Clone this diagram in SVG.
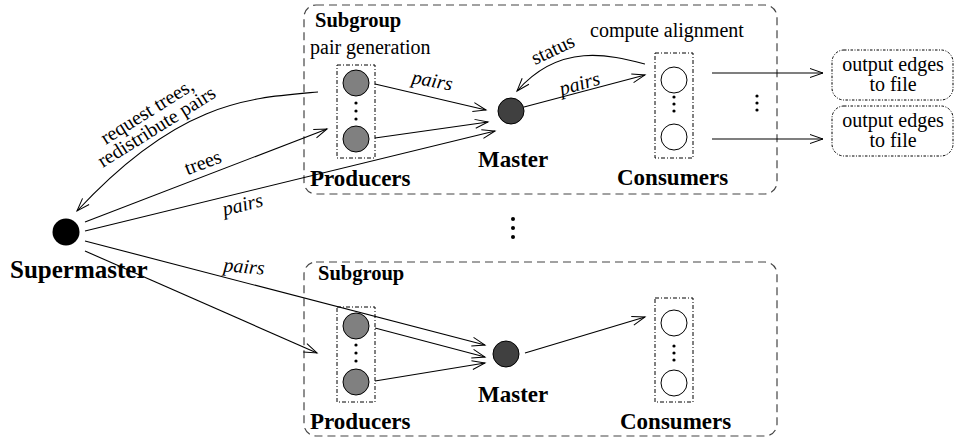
<svg xmlns="http://www.w3.org/2000/svg" width="955" height="445" viewBox="0 0 955 445" font-family="'Liberation Serif', 'DejaVu Serif', serif">
<defs>
<marker id="arr" markerUnits="userSpaceOnUse" markerWidth="16" markerHeight="10" refX="13" refY="4.5" orient="auto" overflow="visible">
<path d="M0,0 L13,4.5 L0,9" fill="none" stroke="#000" stroke-width="1"/>
</marker>
</defs>
<style>
.sg{fill:none;stroke:#444;stroke-width:1.2;stroke-dasharray:8,5}
.grp{fill:none;stroke:#000;stroke-width:1;stroke-dasharray:4,2,1,2}
.out{fill:none;stroke:#000;stroke-width:1;stroke-dasharray:2.5,1.5,1,1.5}
.ar{fill:none;stroke:#000;stroke-width:1.1;marker-end:url(#arr)}
.prod{fill:#808080;stroke:#000;stroke-width:1}
.cons{fill:#fff;stroke:#000;stroke-width:1}
.mast{fill:#404040;stroke:#000;stroke-width:1}
.dot{fill:#000}
text{font-family:'Liberation Serif','DejaVu Serif',serif;fill:#000}
.b{font-weight:bold;font-size:23px}
.sgt{font-weight:bold;font-size:20.5px}
.r{font-size:20px}
.i{font-size:20px;font-style:italic}
</style>

<g id="subgroup1">
<rect class="sg" x="304" y="5" width="473" height="189" rx="12"/>
<text class="sgt" x="315" y="27">Subgroup</text>
<text class="r" x="310" y="54">pair generation</text>
<text class="r" x="590" y="37">compute alignment</text>
<text class="b" x="310" y="186">Producers</text>
<text class="b" x="617" y="185">Consumers</text>
</g>

<g id="producers1">
<rect class="grp" x="337" y="65" width="38" height="93"/>
<circle class="prod" cx="356" cy="83" r="13"/>
<circle class="dot" cx="356" cy="103" r="1.6"/>
<circle class="dot" cx="356" cy="111" r="1.6"/>
<circle class="dot" cx="356" cy="119" r="1.6"/>
<circle class="prod" cx="356" cy="139" r="13"/>
</g>

<g id="master1">
<circle class="mast" cx="511" cy="111" r="13"/>
<text class="b" x="478" y="167">Master</text>
</g>

<g id="consumers1">
<rect class="grp" x="655" y="53" width="38" height="105"/>
<circle class="cons" cx="674" cy="80" r="13"/>
<circle class="dot" cx="674" cy="97" r="1.6"/>
<circle class="dot" cx="674" cy="104" r="1.6"/>
<circle class="dot" cx="674" cy="111" r="1.6"/>
<circle class="cons" cx="674" cy="137" r="13"/>
</g>

<g id="output1">
<rect class="out" x="832" y="50" width="121" height="50" rx="12"/>
<text class="r" x="893" y="71" text-anchor="middle">output edges</text>
<text class="r" x="893" y="91" text-anchor="middle">to file</text>
</g>

<g id="output2">
<rect class="out" x="832" y="106" width="121" height="50" rx="12"/>
<text class="r" x="893" y="127" text-anchor="middle">output edges</text>
<text class="r" x="893" y="147" text-anchor="middle">to file</text>
</g>

<g id="outdots">
<circle class="dot" cx="757" cy="96" r="1.6"/>
<circle class="dot" cx="757" cy="103" r="1.6"/>
<circle class="dot" cx="757" cy="110" r="1.6"/>
</g>

<g id="middots">
<circle class="dot" cx="513" cy="219" r="2"/>
<circle class="dot" cx="513" cy="228" r="2"/>
<circle class="dot" cx="513" cy="237" r="2"/>
</g>

<g id="supermaster">
<circle fill="#000" cx="66" cy="232" r="13.5"/>
<text class="b" x="10" y="278" style="font-size:25px">Supermaster</text>
</g>

<g id="subgroup2">
<rect class="sg" x="304" y="262" width="473" height="174" rx="12"/>
<text class="sgt" x="318" y="280">Subgroup</text>
<text class="b" x="310" y="429">Producers</text>
<text class="b" x="620" y="429">Consumers</text>
</g>

<g id="producers2">
<rect class="grp" x="337" y="307" width="38" height="95"/>
<circle class="prod" cx="356" cy="326" r="13"/>
<circle class="dot" cx="356" cy="345" r="1.6"/>
<circle class="dot" cx="356" cy="353" r="1.6"/>
<circle class="dot" cx="356" cy="361" r="1.6"/>
<circle class="prod" cx="356" cy="382" r="13"/>
</g>

<g id="master2">
<circle class="mast" cx="506" cy="354" r="13"/>
<text class="b" x="478" y="402">Master</text>
</g>

<g id="consumers2">
<rect class="grp" x="655" y="298" width="38" height="104"/>
<circle class="cons" cx="674" cy="323" r="13"/>
<circle class="dot" cx="674" cy="346" r="1.6"/>
<circle class="dot" cx="674" cy="353" r="1.6"/>
<circle class="dot" cx="674" cy="360" r="1.6"/>
<circle class="cons" cx="674" cy="383" r="13"/>
</g>

<g id="connectors">
<path class="ar" d="M318,92 C250,98 180,100 77,211"/>
<path class="ar" d="M85,222 L327,129"/>
<path class="ar" d="M85,231 L495,131"/>
<path class="ar" d="M375,84 L486,110"/>
<path class="ar" d="M375,138 L488,122"/>
<path class="ar" d="M524,107 L645,75"/>
<path class="ar" d="M645,64 C610,55 560,42 517,91"/>
<path class="ar" d="M712,73 L823,73"/>
<path class="ar" d="M712,139 L823,139"/>
<path class="ar" d="M85,241 L485,345"/>
<path class="ar" d="M85,251 L317,353"/>
<path class="ar" d="M375,328 L485,357"/>
<path class="ar" d="M375,381 L485,363"/>
<path class="ar" d="M525,353 L645,317"/>
</g>

<g id="labels">
<g transform="translate(152,119.5) rotate(-32)">
<text class="r" x="0" y="-3" text-anchor="middle">request trees,</text>
<text class="r" x="0" y="15" text-anchor="middle">redistribute pairs</text>
</g>
<text class="r" transform="translate(203,163) rotate(-21)" x="0" y="6" text-anchor="middle">trees</text>
<text class="i" transform="translate(243,206) rotate(-14)" x="0" y="5" text-anchor="middle">pairs</text>
<text class="i" transform="translate(244,268) rotate(5)" x="0" y="5" text-anchor="middle">pairs</text>
<text class="i" transform="translate(432,82) rotate(10)" x="0" y="5" text-anchor="middle">pairs</text>
<text class="i" transform="translate(580,85) rotate(-16)" x="0" y="5" text-anchor="middle">pairs</text>
<text class="r" transform="translate(553,50) rotate(-25)" x="0" y="6" text-anchor="middle">status</text>
</g>
</svg>
